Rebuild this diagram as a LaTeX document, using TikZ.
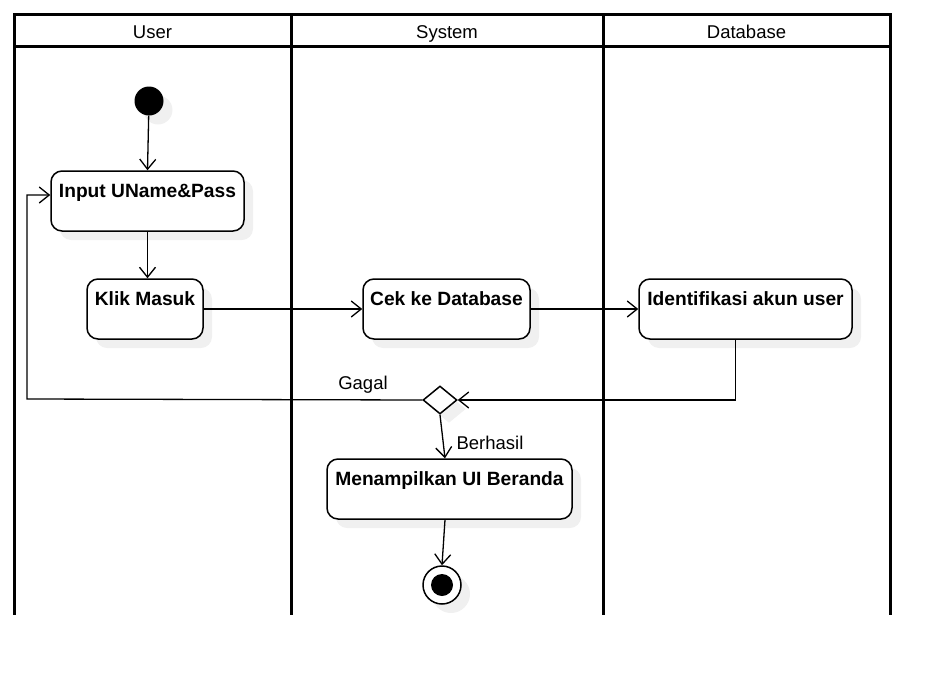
\documentclass[tikz,border=0pt]{standalone}
\usepackage{fontspec}
\setmainfont{Liberation Sans}
\usetikzlibrary{arrows.meta,shapes.geometric,shadows}
\begin{document}
\begin{tikzpicture}[x=1pt,y=-1pt,
  every node/.style={font=\fontsize{18.5}{22}\selectfont},
  lane/.style={line width=3pt},
  shad/.style={drop shadow={shadow xshift=9pt,shadow yshift=-9pt,fill=black!6,opacity=1}},
  act/.style={draw,line width=1.5pt,rounded corners=11pt,fill=white,shad,
    inner xsep=0pt,inner ysep=6pt,text height=20pt,text depth=28pt,
    font=\fontsize{19.2}{22}\selectfont\bfseries},
  conn/.style={line width=1.3pt,-{Straight Barb[length=10pt,width=16pt]}},
  lbl/.style={inner sep=0pt},
  hdr/.style={inner sep=0pt,anchor=base}
]
\useasboundingbox (0,0) rectangle (951,675);
% swimlanes
\draw[lane] (14,14) rectangle (890,46);
\draw[lane] (14,14) -- (14,615);
\draw[lane] (291,14) -- (291,615);
\draw[lane] (603,14) -- (603,615);
\draw[lane] (890,14) -- (890,615);
\node[hdr] (hUser) at (152.5,38) {User};
\node[hdr] (hSys) at (447,38) {System};
\node[hdr] (hDb) at (746.5,38) {Database};
% nodes
\node[circle,fill=black,minimum size=29pt,inner sep=0pt,shad] (init) at (149,101) {};
\node[act,minimum width=193pt] (input) at (147.5,201) {Input UName\&Pass};
\node[act,minimum width=116pt] (klik) at (145,309) {Klik Masuk};
\node[act,minimum width=167pt] (cek) at (446.5,309) {Cek ke Database};
\node[act,minimum width=213pt] (ident) at (745.5,309) {Identifikasi akun user};
\node[diamond,draw,line width=1.5pt,fill=white,shad,minimum width=34pt,minimum height=28pt,inner sep=0pt] (dec) at (440,400) {};
\node[act,minimum width=245pt] (beranda) at (449.5,489) {Menampilkan UI Beranda};
\node[circle,draw,line width=1.5pt,fill=white,shad,minimum size=38pt,inner sep=0pt] (final) at (442,585) {};
\fill (final.center) circle (11);
\coordinate (loopc) at (27,399);
% connectors
\draw[conn] (init) -- (input.north);
\draw[conn] (input.south) -- (input.south |- klik.north);
\draw[conn] (klik.east) -- (cek.west);
\draw[conn] (cek.east) -- (ident.west);
\draw[conn] ([xshift=-10pt]ident.south) |- (dec.east);
\draw[conn] (dec.west) -- (loopc) |- ([yshift=6pt]input.west);
\draw[conn] (dec.south) -- ([xshift=-4.5pt]beranda.north);
\draw[conn] ([xshift=-4.5pt]beranda.south) -- (final.north);
\node[hdr] (gagal) at (363,389) {Gagal};
\node[hdr] (berhasil) at (490,449) {Berhasil};
\end{tikzpicture}
\end{document}
